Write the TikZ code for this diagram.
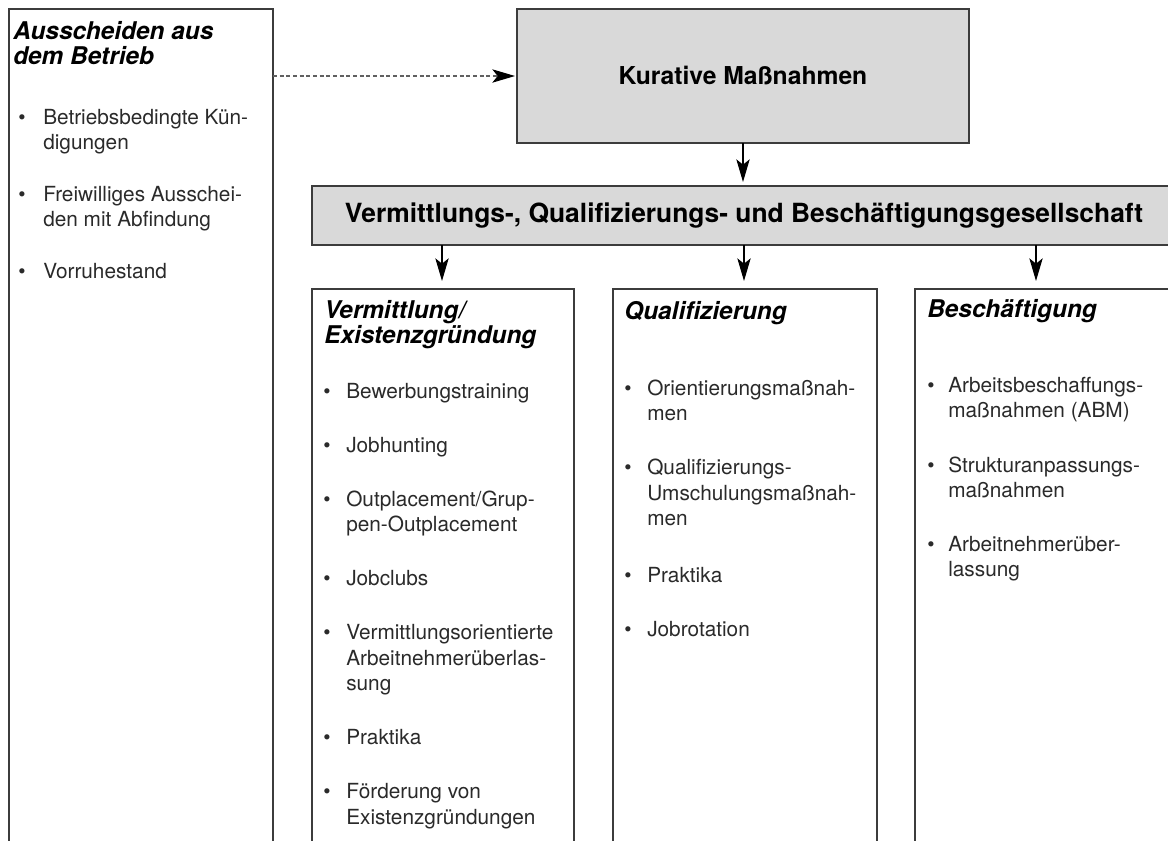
\documentclass[tikz,border=0pt]{standalone}
\usepackage{fontspec}
\setmainfont{TeX Gyre Heros}
\usetikzlibrary{arrows.meta}
\definecolor{boxgray}{HTML}{D9D9D9}
\definecolor{linegray}{HTML}{3C3C3C}
\definecolor{txtgray}{HTML}{2A2A2A}
\definecolor{dashgray}{HTML}{606060}
\newcommand\bodyfont{\fontsize{15.6pt}{19pt}\selectfont}
\newcommand\headfont{\fontsize{19.8pt}{24pt}\selectfont\bfseries}
\newcommand\kurfont{\fontsize{18.5pt}{22pt}\selectfont\bfseries}
\newcommand\titlefont{\fontsize{18.3pt}{22pt}\selectfont\bfseries\itshape}
\newcommand\tline[4]{\node[txt] (#1) at (#2,#3) {#4};}
\newcommand\tbul[3]{\node[bul] (#1) at (#2,#3) {•};}
\begin{document}
\begin{tikzpicture}[x=0.75pt,y=-0.75pt,
 box/.style={draw=linegray,line width=1pt,inner sep=0pt,outer sep=0pt,fill=white},
 graybox/.style={box,fill=boxgray,font=\headfont},
 txt/.style={anchor=base west,inner sep=0pt,font=\bodyfont,text=txtgray},
 bul/.style={anchor=base,inner sep=0pt,font=\bodyfont,text=txtgray},
 ttl/.style={anchor=base west,inner sep=0pt,font=\titlefont},
 arr/.style={-{Stealth[length=17pt,width=10pt,inset=4pt,color=black]},line width=0.9pt,draw=black},
 darr/.style={arr,dash pattern=on 3pt off 2pt,draw=dashgray}
]
\useasboundingbox (0,0) rectangle (1168,840);
\fill[white] (0,0) rectangle (1168,840);
\clip (0,0) rectangle (1168,840);

% boxes
\node[box,minimum width=198pt,minimum height=638.25pt] (left) at (141,434.5) {};
\node[graybox,font=\kurfont,minimum width=339pt,minimum height=100.5pt] (kur) at (743,76) {Kurative Maßnahmen};
\node[graybox,minimum width=648pt,minimum height=44.25pt] (ges) at (744,215.5) {Vermittlungs-, Qualifizierungs- und Beschäftigungsgesellschaft};
\node[box,minimum width=196.5pt,minimum height=428.25pt] (ver) at (443,574.5) {};
\node[box,minimum width=198pt,minimum height=428.25pt] (qua) at (745,574.5) {};
\node[box,minimum width=198pt,minimum height=428.25pt] (bes) at (1047,574.5) {};

% arrows
\draw[darr,shorten >=1.5pt] (left.east |- kur.west) -- (kur.west);
\draw[arr,shorten >=3pt] (kur.south) -- (kur.south |- ges.north);
\coordinate (va) at (442,289);
\coordinate (qa) at (744,289);
\coordinate (ba) at (1036,289);
\draw[arr,shorten >=6pt] (va |- ges.south) -- (va);
\draw[arr,shorten >=6pt] (qa |- ges.south) -- (qa);
\draw[arr,shorten >=6pt] (ba |- ges.south) -- (ba);

% left box
\node[ttl] (lt1) at (13,39) {Ausscheiden aus};
\node[ttl] (lt2) at (13,64) {dem Betrieb};
\tbul{lb1}{22}{124}
\tline{l1}{43}{124}{Betriebsbedingte Kün-}
\tline{l2}{43}{149}{digungen}
\tbul{lb2}{22}{201}
\tline{l3}{43}{201}{Freiwilliges Ausschei-}
\tline{l4}{43}{226}{den mit Abfindung}
\tbul{lb3}{22}{278}
\tline{l5}{43}{278}{Vorruhestand}

% Vermittlung
\node[ttl] (vt1) at (324,318) {Vermittlung/};
\node[ttl] (vt2) at (324,343) {Existenzgründung};
\tbul{vb1}{327}{398}
\tline{v1}{346}{398}{Bewerbungstraining}
\tbul{vb2}{327}{452}
\tline{v2}{346}{452}{Jobhunting}
\tbul{vb3}{327}{506}
\tline{v3}{346}{506}{Outplacement/Grup-}
\tline{v4}{346}{531.5}{pen-Outplacement}
\tbul{vb4}{327}{585.5}
\tline{v5}{346}{585.5}{Jobclubs}
\tbul{vb5}{327}{639.5}
\tline{v6}{346}{639.5}{Vermittlungsorientierte}
\tline{v7}{346}{665}{Arbeitnehmerüberlas-}
\tline{v8}{346}{690.5}{sung}
\tbul{vb6}{327}{744.5}
\tline{v9}{346}{744.5}{Praktika}
\tbul{vb7}{327}{798.5}
\tline{v10}{346}{798.5}{Förderung von}
\tline{v11}{346}{824}{Existenzgründungen}

% Qualifizierung
\node[ttl] (qt1) at (624,319) {Qualifizierung};
\tbul{qb1}{628}{395}
\tline{q1}{647}{395}{Orientierungsmaßnah-}
\tline{q2}{647}{420.5}{men}
\tbul{qb2}{628}{474}
\tline{q3}{647}{474}{Qualifizierungs-}
\tline{q4}{647}{500}{Umschulungsmaßnah-}
\tline{q5}{647}{525}{men}
\tbul{qb3}{628}{582}
\tline{q6}{647}{582}{Praktika}
\tbul{qb4}{628}{636}
\tline{q7}{647}{636}{Jobrotation}

% Beschaeftigung
\node[ttl] (bt1) at (927,317) {Beschäftigung};
\tbul{bb1}{931}{392}
\tline{b1}{948}{392}{Arbeitsbeschaffungs-}
\tline{b2}{948}{417}{maßnahmen (ABM)}
\tbul{bb2}{931}{472}
\tline{b3}{948}{472}{Strukturanpassungs-}
\tline{b4}{948}{497}{maßnahmen}
\tbul{bb3}{931}{551}
\tline{b5}{948}{551}{Arbeitnehmerüber-}
\tline{b6}{948}{576}{lassung}
\end{tikzpicture}
\end{document}
